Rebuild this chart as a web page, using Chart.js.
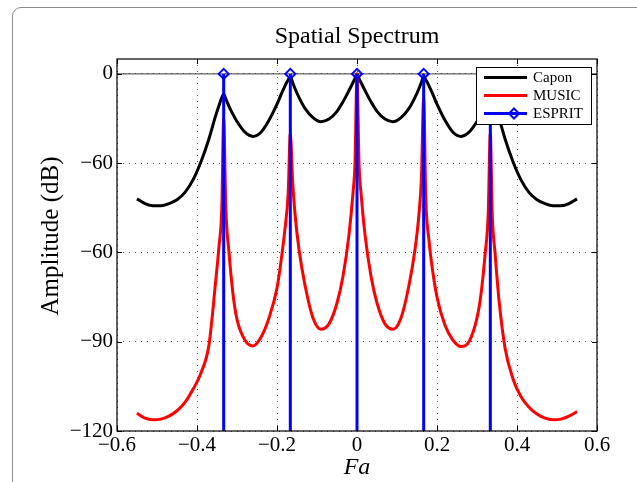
<!DOCTYPE html>
<html>
<head>
<meta charset="utf-8">
<title>Spatial Spectrum</title>
<script src="https://cdn.jsdelivr.net/npm/chart.js@4.4.0/dist/chart.umd.min.js"></script>
<style>
  html, body { margin: 0; padding: 0; background: #fff; overflow: hidden; }
  #wrap { position: relative; width: 637px; height: 482px; overflow: hidden; }
  #frame { position: absolute; left: 12px; top: 7px; width: 700px; height: 600px; border: 1px solid #8c8c8c; border-radius: 9px; }
  #spectrum { position: absolute; left: 0; top: 0; }
</style>
</head>
<body>
<div id="wrap">
  <div id="frame"></div>
  <canvas id="spectrum" width="637" height="482"></canvas>
</div>
<script>
// spatial frequency grid shared by the Capon and MUSIC spectra
const fa = [
  -0.55, -0.53, -0.51, -0.49, -0.47, -0.45, -0.43, -0.41, -0.39, -0.37,
  -0.355, -0.345, -0.338, -0.3333, -0.328, -0.32, -0.31, -0.30,
  -0.28, -0.26, -0.24, -0.22, -0.20, -0.19, -0.18, -0.172, -0.1667, -0.161,
  -0.155, -0.145, -0.13, -0.11, -0.09, -0.07, -0.05, -0.035, -0.02, -0.01,
  -0.005, 0,
  0.005, 0.01, 0.02, 0.035, 0.05, 0.07, 0.09, 0.11, 0.13, 0.145,
  0.155, 0.161, 0.1667, 0.172, 0.18, 0.19, 0.20, 0.22, 0.24, 0.26,
  0.28, 0.30, 0.31, 0.32, 0.328, 0.3333, 0.338, 0.345, 0.355, 0.37,
  0.39, 0.41, 0.43, 0.45, 0.47, 0.49, 0.51, 0.53, 0.55
];

const caponDb = [
  -42.0, -43.6, -44.3, -44.3, -43.6, -42.3, -39.8, -35.6, -29.5, -21.8,
  -14.8, -10.6, -8.0, -6.8, -8.4, -10.9, -13.6, -16.0,
  -19.6, -21.0, -19.6, -15.6, -10.2, -7.0, -4.0, -2.0, -1.0, -2.8,
  -4.9, -7.9, -11.6, -14.7, -16.1, -15.2, -12.6, -9.4, -5.6, -2.9,
  -1.5, 0,
  -1.5, -2.9, -5.6, -9.4, -12.6, -15.2, -16.1, -14.7, -11.6, -7.9,
  -4.9, -2.8, -1.0, -2.0, -4.0, -7.0, -10.2, -15.6, -19.6, -21.0,
  -19.6, -16.0, -13.6, -10.9, -8.4, -6.8, -8.0, -10.6, -14.8, -21.8,
  -29.5, -35.6, -39.8, -42.3, -43.6, -44.3, -44.3, -43.6, -42.0
];

const musicDb = [
  -114.0, -115.7, -116.2, -116.0, -115.0, -113.2, -110.4, -106.0, -100.5, -91.0,
  -72.0, -58.0, -45.0, -15.0, -45.0, -60.0, -74.0, -82.5,
  -89.5, -91.4, -88.5, -82.0, -72.0, -63.0, -52.0, -40.0, -20.0, -36.0,
  -47.0, -59.0, -71.0, -82.0, -85.8, -84.0, -77.0, -68.0, -54.0, -40.0,
  -30.0, 0,
  -30.0, -40.0, -54.0, -68.0, -77.0, -84.0, -85.8, -82.0, -71.0, -59.0,
  -47.0, -35.0, -8.0, -42.0, -56.0, -67.0, -75.0, -84.5, -89.5, -91.6,
  -90.0, -82.0, -74.0, -61.0, -47.0, -20.0, -47.0, -60.0, -76.0, -92.0,
  -102.5, -108.5, -112.0, -114.3, -115.7, -116.2, -116.0, -115.0, -113.5
];

// ESPRIT estimates, drawn as stems up from the floor of the plot
const espritFa = [-0.3333, -0.1667, 0, 0.1667, 0.3333];
const espritDb = [0, 0, 0, 0, 0];

const baselineDb = 0;

const xTicks = [-0.6, -0.4, -0.2, 0, 0.2, 0.4, 0.6];
const xTickLabels = ['−0.6', '−0.4', '−0.2', '0', '0.2', '0.4', '0.6'];
const yTicks = [-120, -90, -60, -30, 0];
const yTickLabels = ['−120', '−90', '−60', '−60', '0'];

const seriesNames = ['Capon', 'MUSIC', 'ESPRIT'];
const seriesColors = ['#000000', '#ff0000', '#0000ff'];

const FONT = "'Liberation Serif', 'Times New Roman', serif";
const Y_MIN = -120;
const Y_MAX = 5;

const toPoints = (xs, ys) => xs.map((x, i) => ({ x, y: ys[i] }));

const stemPoints = [];
espritFa.forEach((x, i) => {
    stemPoints.push({ x, y: Y_MIN }, { x, y: espritDb[i] }, { x, y: null });
});

// box, inward tick marks, legend and titles drawn over the plot area
const axesBox = {
    id: 'axesBox',
    afterDatasetsDraw(chart) {
        const { ctx, chartArea: a, scales: { x, y } } = chart;
        ctx.save();
        ctx.strokeStyle = '#000';
        ctx.lineWidth = 1.2;
        ctx.strokeRect(a.left, a.top, a.right - a.left, a.bottom - a.top);

        const len = 5;
        ctx.lineWidth = 1;
        ctx.beginPath();
        xTicks.forEach(v => {
            const px = Math.round(x.getPixelForValue(v)) + 0.5;
            ctx.moveTo(px, a.bottom); ctx.lineTo(px, a.bottom - len);
            ctx.moveTo(px, a.top); ctx.lineTo(px, a.top + len);
        });
        yTicks.forEach(v => {
            const py = Math.round(y.getPixelForValue(v)) + 0.5;
            ctx.moveTo(a.left, py); ctx.lineTo(a.left + len, py);
            ctx.moveTo(a.right, py); ctx.lineTo(a.right - len, py);
        });
        ctx.stroke();

        // legend
        const bx = a.right - 121, by = a.top + 8, bw = 115, bh = 57;
        ctx.fillStyle = '#fff';
        ctx.fillRect(bx, by, bw, bh);
        ctx.lineWidth = 1;
        ctx.strokeRect(bx + 0.5, by + 0.5, bw, bh);
        ctx.font = `15px ${FONT}`;
        ctx.textBaseline = 'middle';
        ctx.textAlign = 'left';
        seriesNames.forEach((name, i) => {
            const ly = by + 10.5 + i * 18;
            ctx.strokeStyle = seriesColors[i];
            ctx.lineWidth = 3;
            ctx.beginPath();
            ctx.moveTo(bx + 8, ly);
            ctx.lineTo(bx + 51, ly);
            ctx.stroke();
            if (name === 'ESPRIT') {
                const cx = bx + 38, r = 5;
                ctx.lineWidth = 2;
                ctx.beginPath();
                ctx.moveTo(cx, ly - r); ctx.lineTo(cx + r, ly);
                ctx.lineTo(cx, ly + r); ctx.lineTo(cx - r, ly);
                ctx.closePath();
                ctx.stroke();
            }
            ctx.fillStyle = '#000';
            ctx.fillText(name, bx + 57, ly + 1);
        });
        ctx.restore();
    },
    afterDraw(chart) {
        const { ctx, chartArea: a } = chart;
        ctx.save();
        ctx.fillStyle = '#000';
        ctx.textAlign = 'center';
        ctx.font = `24px ${FONT}`;
        ctx.textBaseline = 'alphabetic';
        ctx.fillText('Spatial Spectrum', (a.left + a.right) / 2, 43);

        ctx.font = `25px ${FONT}`;
        ctx.textBaseline = 'middle';
        ctx.translate(51, 236);
        ctx.rotate(-Math.PI / 2);
        ctx.fillText('Amplitude (dB)', 0, 0);
        ctx.restore();
    }
};

new Chart(document.getElementById('spectrum'), {
    type: 'line',
    data: {
        datasets: [
            {
                label: 'ESPRIT',
                data: stemPoints,
                borderColor: seriesColors[2],
                backgroundColor: 'rgba(255,255,255,0)',
                borderWidth: 3,
                pointStyle: 'rectRot',
                pointRadius: ctx => (ctx.dataIndex % 3 === 1 ? 5 : 0),
                pointBorderWidth: 2,
                pointBorderColor: seriesColors[2],
                pointBackgroundColor: 'rgba(255,255,255,0)',
                spanGaps: false,
                order: 0
            },
            {
                label: 'MUSIC',
                data: toPoints(fa, musicDb),
                borderColor: seriesColors[1],
                borderWidth: 3,
                pointRadius: 0,
                cubicInterpolationMode: 'monotone',
                borderJoinStyle: 'round',
                order: 1
            },
            {
                label: 'Capon',
                data: toPoints(fa, caponDb),
                borderColor: seriesColors[0],
                borderWidth: 3,
                pointRadius: 0,
                cubicInterpolationMode: 'monotone',
                borderJoinStyle: 'round',
                order: 2
            },
            {
                label: 'baseline',
                data: [{ x: -0.6, y: baselineDb }, { x: 0.6, y: baselineDb }],
                borderColor: '#3c3c3c',
                borderWidth: 1,
                pointRadius: 0,
                order: 3
            }
        ]
    },
    options: {
        responsive: false,
        animation: false,
        events: [],
        layout: { padding: { top: 59, right: 40, bottom: 0, left: 0 } },
        plugins: {
            legend: { display: false },
            title: { display: false },
            tooltip: { enabled: false }
        },
        scales: {
            x: {
                type: 'linear',
                min: -0.6,
                max: 0.6,
                afterBuildTicks: s => { s.ticks = xTicks.map(v => ({ value: v })); },
                afterFit: s => { s.height = 51; },
                grid: { color: '#555', lineWidth: 1, drawTicks: false },
                border: { display: false, dash: [1, 5] },
                ticks: {
                    padding: 2,
                    color: '#000',
                    autoSkip: false,
                    maxRotation: 0,
                    font: { family: FONT, size: 21 },
                    callback: (v, i) => xTickLabels[i]
                },
                title: {
                    display: true,
                    text: 'Fa',
                    color: '#000',
                    font: { family: FONT, size: 24, style: 'italic' },
                    padding: { top: 0, bottom: 0 }
                }
            },
            y: {
                type: 'linear',
                min: Y_MIN,
                max: Y_MAX,
                afterBuildTicks: s => { s.ticks = yTicks.map(v => ({ value: v })); },
                afterFit: s => { s.width = 117; },
                grid: { color: '#555', lineWidth: 1, drawTicks: false },
                border: { display: false, dash: [1, 5] },
                ticks: {
                    padding: 4,
                    color: '#000',
                    autoSkip: false,
                    font: { family: FONT, size: 21 },
                    callback: (v, i) => yTickLabels[i]
                }
            }
        }
    },
    plugins: [axesBox]
});
</script>
</body>
</html>
